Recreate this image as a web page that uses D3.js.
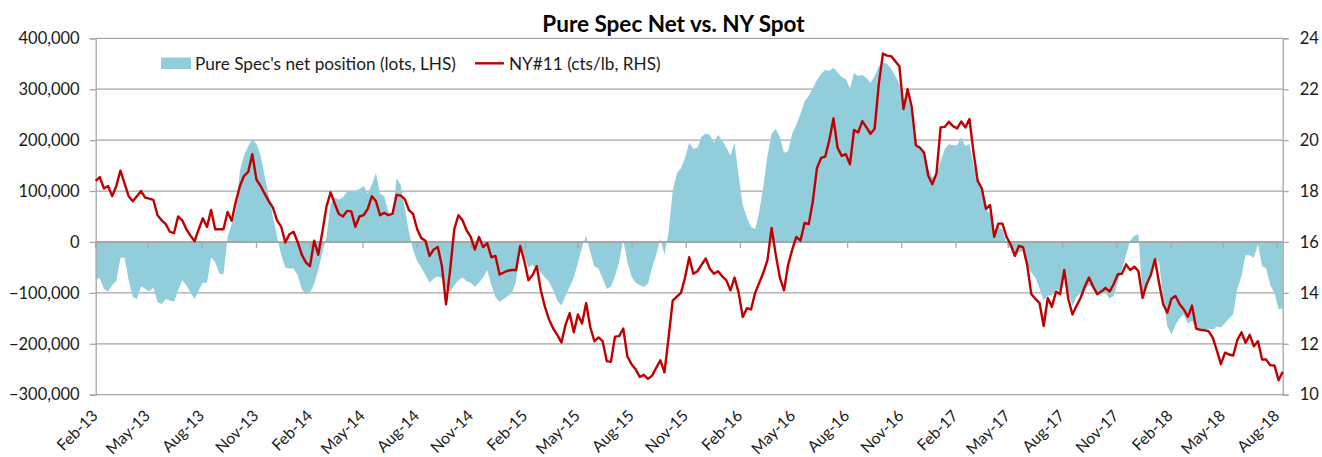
<!DOCTYPE html>
<html>
<head>
<meta charset="utf-8">
<script src="https://cdn.jsdelivr.net/npm/d3@7"></script>
<style>
  html, body { margin: 0; padding: 0; background: #fff; }
  svg { display: block; font-family: Lato, "Open Sans", sans-serif; }
</style>
</head>
<body>
<svg id="chart" width="1322" height="457"></svg>
<script>
// ---------------- DATA ----------------
const titleText = "Pure Spec Net vs. NY Spot";
const seriesNames = ["Pure Spec's net position (lots, LHS)", "NY#11 (cts/lb, RHS)"];
const startDate = "2013-02-05"; // first weekly observation
// Pure spec net position, thousands of lots (weekly)
const netPositionK = [
  -72, -72, -92, -98, -85, -77, -31, -31, -75, -108,
  -112, -87, -92, -97, -90, -118, -122, -112, -115, -118,
  -95, -75, -85, -100, -112, -95, -80, -80, -30, -40,
  -62, -64, 10, 35, 60, 140, 170, 188, 202, 193,
  170, 130, 90, 50, 10, -25, -50, -52,
  -52, -65, -93, -103, -100, -82, -55, -20, 10, 75,
  88, 83, 88, 99, 100, 100, 104, 110, 95, 112,
  135, 95, 90, 60, 50, 125, 112, 65, 20, -15,
  -38, -50, -65, -80, -72, -68, -71, -90, -98, -85,
  -75, -70, -77, -80, -88, -80, -70,
  -55, -85, -108, -118, -112, -106, -100, -78, -8, -28,
  -50, -45, -54, -60, -70, -78, -95, -115, -125, -105,
  -88, -70, -42, -10, 12, -20, -48, -52, -72, -92,
  -88, -67, -40, 5, -40, -68, -80, -85, -88, -82,
  -50, -25, 7, -25, 20, 100, 135,
  145, 165, 195, 183, 185, 207, 213, 210, 195, 210,
  200, 185, 170, 195, 130, 72, 48, 30, 25, 60,
  110, 170, 213, 222, 206, 175, 178, 213, 230, 252,
  276, 287, 302, 318, 330, 338, 336, 342, 333, 324,
  320, 302, 332, 326, 328, 322, 312, 326,
  345, 352, 350, 340, 326, 310, 268, 288, 255, 190,
  188, 175, 145, 126, 135, 158, 182, 192, 190, 190,
  205, 188, 193, 150, 120, 95, 65, 55, 15, 30,
  25, -3, -12, -27, -20, -18, -44, -60, -70, -92,
  -115, -105, -105, -92, -98, -65, -100,
  -126, -107, -100, -92, -85, -92, -103, -100, -100, -111,
  -106, -78, -54, -25, 3, 12, 15, -106, -85, -65,
  -35, -40, -110, -165, -182, -162, -150, -142, -160, -155,
  -169, -170, -171, -171, -172, -166, -168, -159, -150, -142,
  -92, -67, -26, -26, -31, -5, -47, -52, -85, -100,
  -132, -130
];
// NY#11 sugar price, cents/lb (weekly)
const nyPrice = [
  18.4, 18.55, 18.1, 18.2, 17.8, 18.2, 18.8, 18.3, 17.8, 17.6,
  17.8, 18.0, 17.74, 17.7, 17.65, 17.05, 16.85, 16.7, 16.4, 16.35,
  17.0, 16.85, 16.5, 16.25, 16.03, 16.5, 16.93, 16.59, 17.26, 16.5,
  16.5, 16.5, 17.18, 16.83, 17.6, 18.2, 18.6, 18.75, 19.45, 18.45,
  18.2, 17.9, 17.6, 17.35, 16.85, 16.6, 15.98, 16.3,
  16.4, 16.0, 15.5, 15.2, 15.05, 16.05, 15.5, 16.4, 17.4, 17.95,
  17.5, 17.1, 17.0, 17.22, 17.2, 16.6, 17.0, 17.05, 17.3, 17.8,
  17.6, 17.05, 17.15, 17.05, 17.1, 17.85, 17.82, 17.68, 17.25, 17.1,
  16.5, 16.15, 16.05, 15.45, 15.7, 15.8, 15.06, 13.55, 14.9, 16.5,
  17.05, 16.85, 16.45, 16.2, 15.7, 16.2, 15.8,
  15.95, 15.4, 15.45, 14.72, 14.8, 14.87, 14.9, 14.9, 15.84, 15.25,
  14.5, 14.7, 15.05, 14.1, 13.45, 12.95, 12.6, 12.35, 12.05, 12.75,
  13.2, 12.45, 13.15, 12.8, 13.6, 12.65, 12.1, 12.25, 12.1, 11.32,
  11.29, 12.28, 12.3, 12.6, 11.5, 11.2, 11.0, 10.7, 10.78, 10.62,
  10.75, 11.06, 11.35, 10.88, 12.25, 13.7, 13.85,
  14.0, 14.6, 15.4, 14.75, 14.85, 15.1, 15.35, 14.95, 14.75, 14.85,
  14.65, 14.5, 14.1, 14.6, 14.0, 13.05, 13.4, 13.35, 14.0, 14.4,
  14.8, 15.3, 16.55, 15.5, 14.6, 14.1, 15.1, 15.7, 16.2, 16.05,
  16.75, 16.7, 17.6, 18.9, 19.3, 19.35, 20.0, 20.85, 19.7, 19.38,
  19.45, 19.05, 20.4, 20.3, 20.75, 20.5, 20.25, 20.45,
  22.2, 23.4, 23.32, 23.3, 23.1, 22.9, 21.22, 22.0, 21.3, 19.8,
  19.7, 19.5, 18.6, 18.27, 18.7, 20.5, 20.52, 20.72, 20.55, 20.46,
  20.73, 20.5, 20.83, 19.5, 18.4, 18.1, 17.3, 17.45, 16.2, 16.72,
  16.72, 16.2, 15.9, 15.45, 15.84, 15.8, 15.1, 13.95, 13.77, 13.6,
  12.7, 13.8, 13.45, 14.05, 13.95, 14.9, 13.75,
  13.15, 13.5, 13.82, 14.25, 14.6, 14.25, 13.95, 14.05, 14.2, 14.05,
  14.35, 14.73, 14.75, 15.12, 14.9, 15.03, 14.85, 13.8, 14.35, 14.7,
  15.32, 14.4, 13.55, 13.22, 13.77, 13.88, 13.55, 13.35, 13.06, 13.5,
  12.6, 12.55, 12.53, 12.5, 12.25, 11.75, 11.2, 11.65, 11.58, 11.54,
  12.15, 12.45, 12.04, 12.35, 11.9, 12.1, 11.38, 11.38, 11.15, 11.15,
  10.57, 10.9
];
const xTickLabels = ["Feb-13","May-13","Aug-13","Nov-13","Feb-14","May-14","Aug-14","Nov-14",
  "Feb-15","May-15","Aug-15","Nov-15","Feb-16","May-16","Aug-16","Nov-16",
  "Feb-17","May-17","Aug-17","Nov-17","Feb-18","May-18","Aug-18"];
const leftTicksK = [-300, -200, -100, 0, 100, 200, 300, 400];
const rightTicks = [10, 12, 14, 16, 18, 20, 22, 24];

// ---------------- BUILD ----------------
const parse = d3.utcParse("%Y-%m-%d");
const d0 = parse(startDate);
const dates = netPositionK.map((_, i) => d3.utcDay.offset(d0, 7 * i));
const data = dates.map((d, i) => ({ date: d, net: netPositionK[i], px: nyPrice[i] }));
const tickDates = xTickLabels.map((_, k) => d3.utcMonth.offset(d0, 3 * k));

const L = 95.7, R = 1282.7, T = 38.3, B = 394.7;
const x = d3.scaleUtc().domain([dates[0], dates[dates.length - 1]]).range([L, R]);
const yL = d3.scaleLinear().domain([-300, 400]).range([B, T]);
const yR = d3.scaleLinear().domain([10, 24]).range([B, T]);

const svg = d3.select("#chart");
const gridColor = "#a6a6a6";
const textColor = "#1a1a1a";
const axisFont = 16.5;

// gridlines
svg.append("g").selectAll("line").data(leftTicksK).join("line")
  .attr("x1", L).attr("x2", R)
  .attr("y1", d => yL(d)).attr("y2", d => yL(d))
  .attr("stroke", gridColor).attr("stroke-width", d => d === 0 ? 2 : 1.3);

// area
svg.append("path").datum(data)
  .attr("fill", "#92cddc")
  .attr("d", d3.area().x(d => x(d.date)).y0(yL(0)).y1(d => yL(d.net)));

// category axis line at zero (drawn over the area)
svg.append("line").attr("x1", L).attr("x2", R).attr("y1", yL(0)).attr("y2", yL(0))
  .attr("stroke", gridColor).attr("stroke-width", 2);

// left axis
const leftAxis = d3.axisLeft(yL).tickValues(leftTicksK).tickSize(6).tickPadding(10)
  .tickFormat(d => d3.format(",")(d * 1000));
const gl = svg.append("g").attr("transform", `translate(${L},0)`).call(leftAxis);
gl.select(".domain").attr("stroke", gridColor).attr("stroke-width", 1.3);
gl.selectAll(".tick line").attr("stroke", gridColor).attr("stroke-width", 1.3);
gl.selectAll(".tick text").attr("font-size", axisFont).attr("fill", textColor)
  .attr("font-family", "Lato, sans-serif");

// right axis
const rightAxis = d3.axisRight(yR).tickValues(rightTicks).tickSize(6).tickPadding(11);
const gr = svg.append("g").attr("transform", `translate(${R},0)`).call(rightAxis);
gr.select(".domain").attr("stroke", gridColor).attr("stroke-width", 1.3);
gr.selectAll(".tick line").attr("stroke", gridColor).attr("stroke-width", 1.3);
gr.selectAll(".tick text").attr("font-size", axisFont).attr("fill", textColor)
  .attr("font-family", "Lato, sans-serif");

// category axis tick marks
svg.append("g").selectAll("line").data(tickDates).join("line")
  .attr("x1", d => x(d)).attr("x2", d => x(d))
  .attr("y1", yL(0)).attr("y2", yL(0) + 6)
  .attr("stroke", gridColor).attr("stroke-width", 1.3);

// x labels at bottom, rotated
svg.append("g").selectAll("text").data(tickDates).join("text")
  .attr("transform", d => `translate(${x(d) + 3},${B + 22}) rotate(-45)`)
  .attr("text-anchor", "end")
  .attr("font-size", 15.8).attr("fill", textColor)
  .text((d, i) => xTickLabels[i]);

// price line
svg.append("path").datum(data)
  .attr("fill", "none").attr("stroke", "#c00000").attr("stroke-width", 2.4)
  .attr("stroke-linejoin", "round")
  .attr("d", d3.line().x(d => x(d.date)).y(d => yR(d.px)));

// title
svg.append("text").attr("x", 673.5).attr("y", 32)
  .attr("text-anchor", "middle").attr("font-size", 22.5).attr("font-weight", "bold")
  .attr("fill", "#000").text(titleText);

// legend
const legendFont = 17.2;
const lg = svg.append("g");
lg.append("rect").attr("x", 161).attr("y", 57.5).attr("width", 30).attr("height", 11.5).attr("fill", "#92cddc");
lg.append("text").attr("x", 195).attr("y", 69.5).attr("font-size", legendFont).attr("fill", textColor).text(seriesNames[0]);
lg.append("line").attr("x1", 475).attr("x2", 504).attr("y1", 63.3).attr("y2", 63.3)
  .attr("stroke", "#c00000").attr("stroke-width", 2.4);
lg.append("text").attr("x", 509).attr("y", 69.5).attr("font-size", legendFont).attr("fill", textColor).text(seriesNames[1]);
</script>
</body>
</html>
